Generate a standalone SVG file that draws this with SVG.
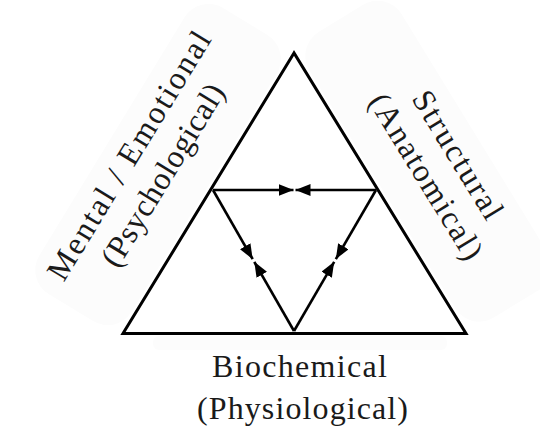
<svg xmlns="http://www.w3.org/2000/svg" width="540" height="434" viewBox="0 0 540 434">
  <style>
    .lbl { font-family: "Liberation Serif", "Times New Roman", serif; font-size: 32px; fill: #1a1a1a; text-anchor: middle; }
    .edge { fill: none; stroke: #000; stroke-width: 3; stroke-linejoin: miter; }
    .arr { fill: none; stroke: #000; stroke-width: 2.6; marker-end: url(#head); }
    .bg { fill: #fcfcfc; }
  </style>
  <defs>
    <marker id="head" viewBox="0 0 15 12" refX="15" refY="6" markerWidth="15" markerHeight="12" markerUnits="userSpaceOnUse" orient="auto">
      <path d="M0,0 L15,6 L0,12 Z" fill="#000"/>
    </marker>
  </defs>
  <rect width="540" height="434" fill="#fff"/>

  <g id="backdrops">
    <rect class="bg" x="-5" y="-112" width="335" height="108" rx="28" transform="translate(123,333.5) rotate(-58.63)"/>
    <rect class="bg" x="-5" y="-112" width="335" height="108" rx="28" transform="translate(294,53) rotate(58.48)"/>
    <rect class="bg" x="153" y="336" width="294" height="14" rx="6"/>
  </g>

  <g id="outer-triangle">
    <polygon class="edge" points="294,53 123,333.5 466,333.5"/>
  </g>

  <g id="connectors">
    <line class="arr" x1="213" y1="190" x2="293.5" y2="190"/>
    <line class="arr" x1="376" y1="190" x2="295.5" y2="190"/>
    <line class="arr" x1="213" y1="190" x2="252.7" y2="259.2"/>
    <line class="arr" x1="294" y1="331" x2="254.3" y2="261.8"/>
    <line class="arr" x1="376" y1="190" x2="335.8" y2="259.2"/>
    <line class="arr" x1="294" y1="331" x2="334.2" y2="261.8"/>
  </g>

  <g id="label-mental">
    <g transform="translate(123,333.5) rotate(-58.63)">
      <text class="lbl" x="155" y="-77" textLength="285" lengthAdjust="spacing">Mental / Emotional</text>
      <text class="lbl" x="156" y="-38" textLength="208" lengthAdjust="spacing">(Psychological)</text>
    </g>
  </g>

  <g id="label-structural">
    <g transform="translate(294,53) rotate(58.48)">
      <text class="lbl" x="172.5" y="-76" textLength="145" lengthAdjust="spacing">Structural</text>
      <text class="lbl" x="174.5" y="-37.5" textLength="189" lengthAdjust="spacing">(Anatomical)</text>
    </g>
  </g>

  <g id="label-biochemical">
    <text class="lbl" x="299.5" y="377" textLength="175" lengthAdjust="spacing">Biochemical</text>
    <text class="lbl" x="302.5" y="419" textLength="211" lengthAdjust="spacing">(Physiological)</text>
  </g>
</svg>
